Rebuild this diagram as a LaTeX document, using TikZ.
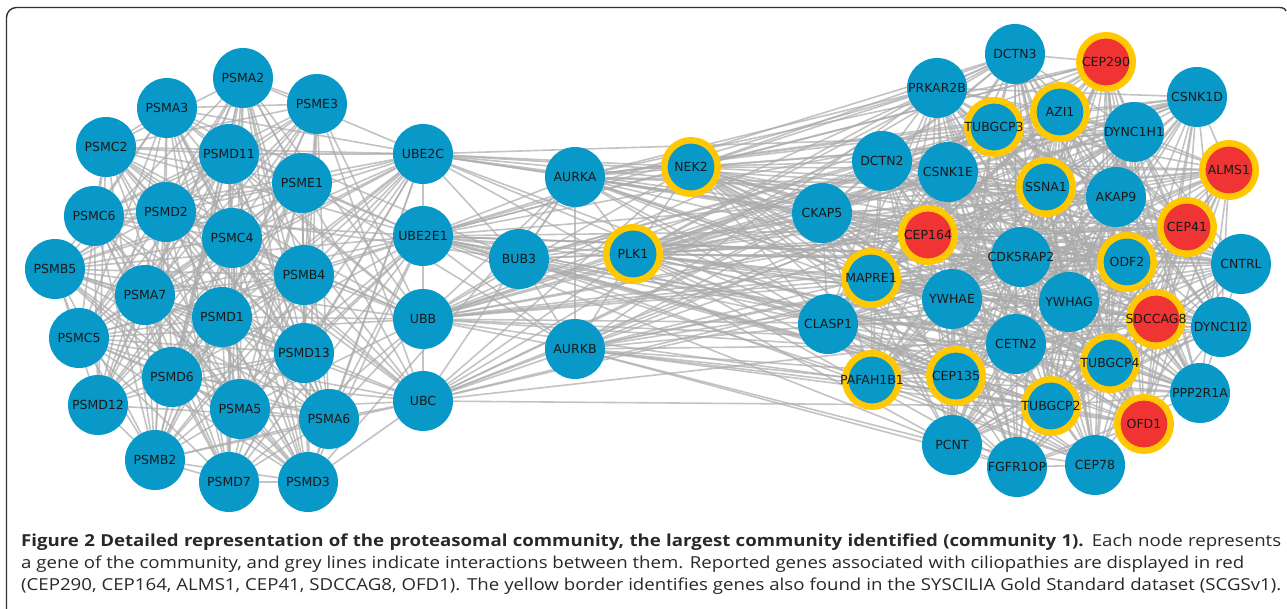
\documentclass[tikz,border=0pt]{standalone}
\usepackage{fontspec}
\setmainfont[FakeStretch=1.13]{Open Sans}
\newfontfamily\gfont{DejaVu Sans}
\definecolor{blueN}{RGB}{8,153,201}
\definecolor{redN}{RGB}{240,52,52}
\definecolor{yellowN}{RGB}{255,200,0}
\definecolor{edgeC}{RGB}{170,170,170}
\definecolor{frameC}{RGB}{50,50,50}
\definecolor{capC}{RGB}{40,40,40}
\pgfdeclarelayer{edgelayer}
\pgfsetlayers{edgelayer,main}
\tikzset{
  gene/.style={circle, fill=blueN, minimum size=60pt, inner sep=0pt,
    font=\gfont\fontsize{12.5}{14}\selectfont, text=black!90},
  ring/.style={gene, draw=yellowN, line width=6.5pt, minimum size=53.5pt},
  cil/.style={ring, fill=redN},
  edge/.style={draw=edgeC, line width=1.6pt, opacity=0.7},
  capline/.style={anchor=base west, inner sep=0pt, text=capC,
    font=\fontsize{16.5}{22}\selectfont},
}
\newcommand\gnode[3]{\node[#1] (#2) at (#3) {\makebox[0pt]{#2}};}
\newcommand\myclique[2]{%
  \edef\mylistA{#1}%
  \foreach \pa [count=\ii] in \mylistA {%
    \foreach \pb [count=\jj] in \mylistA {%
      \ifnum\jj>\ii
        \pgfmathtruncatemacro\myr{rnd<#2}%
        \ifnum\myr=1 \draw[edge] (\pa) -- (\pb);\fi
      \fi}}}
\newcommand\mycross[3]{%
  \edef\mylistA{#1}\edef\mylistB{#2}%
  \foreach \pa in \mylistA {%
    \foreach \pb in \mylistB {%
      \pgfmathtruncatemacro\myr{rnd<#3}%
      \ifnum\myr=1 \draw[edge] (\pa) -- (\pb);\fi}}}
\begin{document}
\begin{tikzpicture}[x=1pt,y=-1pt]
\useasboundingbox (0,0) rectangle (1287,608);
% frame
\draw[frameC, line width=1.4pt, rounded corners=10pt]
  (6.5,620) -- (6.5,7.5) -- (1276,7.5);
\draw[frameC, line width=1.4pt] (1276,7.5) to[out=0,in=110] (1286,11);
% left cluster
\gnode{gene}{PSMA2}{243,78}
\gnode{gene}{PSMA3}{167,108}
\gnode{gene}{PSME3}{317,104}
\gnode{gene}{PSMC2}{106,147}
\gnode{gene}{PSMD11}{229,154}
\gnode{gene}{PSME1}{302,183}
\gnode{gene}{PSMC6}{94,216}
\gnode{gene}{PSMD2}{166,212}
\gnode{gene}{PSMC4}{232,238}
\gnode{gene}{PSMB5}{55,269}
\gnode{gene}{PSMB4}{304,275}
\gnode{gene}{PSMA7}{145,295}
\gnode{gene}{PSMD1}{222,317}
\gnode{gene}{PSMC5}{79,338}
\gnode{gene}{PSMD13}{304,353}
\gnode{gene}{PSMD6}{172,377}
\gnode{gene}{PSMD12}{98,405}
\gnode{gene}{PSMA5}{240,409}
\gnode{gene}{PSMA6}{329,419}
\gnode{gene}{PSMB2}{155,460}
\gnode{gene}{PSMD7}{229,482}
\gnode{gene}{PSMD3}{308,482}
% ubiquitin column
\gnode{gene}{UBE2C}{423,154}
\gnode{gene}{UBE2E1}{423,236}
\gnode{gene}{UBB}{423,319}
\gnode{gene}{UBC}{423,401}
% middle
\gnode{gene}{AURKA}{575,177}
\gnode{ring}{NEK2}{691,167}
\gnode{gene}{BUB3}{519,259}
\gnode{ring}{PLK1}{633,254}
\gnode{gene}{AURKB}{575,349}
% right cluster
\gnode{gene}{DCTN3}{1015,54}
\gnode{cil}{CEP290}{1106,62}
\gnode{gene}{PRKAR2B}{937,88}
\gnode{gene}{CSNK1D}{1197,97}
\gnode{ring}{AZI1}{1060,112}
\gnode{ring}{TUBGCP3}{994,127}
\gnode{gene}{DYNC1H1}{1134,132}
\gnode{gene}{DCTN2}{882,161}
\gnode{gene}{CSNK1E}{948,172}
\gnode{cil}{ALMS1}{1229,170}
\gnode{ring}{SSNA1}{1046,187}
\gnode{gene}{AKAP9}{1116,197}
\gnode{gene}{CKAP5}{822,213}
\gnode{cil}{CEP164}{928,235}
\gnode{cil}{CEP41}{1187,227}
\gnode{gene}{CDK5RAP2}{1021,257}
\gnode{ring}{ODF2}{1127,262}
\gnode{gene}{CNTRL}{1241,264}
\gnode{ring}{MAPRE1}{871,278}
\gnode{gene}{YWHAE}{952,299}
\gnode{gene}{YWHAG}{1069,302}
\gnode{cil}{SDCCAG8}{1156,319}
\gnode{gene}{DYNC1I2}{1221,327}
\gnode{gene}{CLASP1}{828,324}
\gnode{gene}{CETN2}{1016,344}
\gnode{ring}{TUBGCP4}{1110,363}
\gnode{ring}{PAFAH1B1}{872,380}
\gnode{ring}{CEP135}{956,376}
\gnode{gene}{PPP2R1A}{1200,393}
\gnode{ring}{TUBGCP2}{1051,406}
\gnode{cil}{OFD1}{1144,424}
\gnode{gene}{PCNT}{952,445}
\gnode{gene}{FGFR1OP}{1017,467}
\gnode{gene}{CEP78}{1095,465}
% edges
\def\Lset{PSMA2,PSMA3,PSME3,PSMC2,PSMD11,PSME1,PSMC6,PSMD2,PSMC4,PSMB5,PSMB4,PSMA7,PSMD1,PSMC5,PSMD13,PSMD6,PSMD12,PSMA5,PSMA6,PSMB2,PSMD7,PSMD3}
\def\Uset{UBE2C,UBE2E1,UBB,UBC}
\def\Mset{AURKA,BUB3,PLK1,AURKB,NEK2}
\def\Rset{DCTN3,CEP290,PRKAR2B,CSNK1D,AZI1,TUBGCP3,DYNC1H1,DCTN2,CSNK1E,ALMS1,SSNA1,AKAP9,CKAP5,CEP164,CEP41,CDK5RAP2,ODF2,CNTRL,MAPRE1,YWHAE,YWHAG,SDCCAG8,DYNC1I2,CLASP1,CETN2,TUBGCP4,PAFAH1B1,CEP135,PPP2R1A,TUBGCP2,OFD1,PCNT,FGFR1OP,CEP78}
\begin{pgfonlayer}{edgelayer}
\pgfmathsetseed{7}
\myclique{\Lset}{0.85}
\mycross{\Uset}{\Lset}{0.75}
\mycross{\Uset}{\Mset}{0.85}
\mycross{\Uset}{\Rset}{0.4}
\mycross{\Lset}{AURKA,BUB3,AURKB}{0.04}
\mycross{PLK1}{\Rset}{0.75}
\mycross{NEK2}{\Rset}{0.65}
\mycross{AURKA}{\Rset}{0.45}
\mycross{AURKB}{\Rset}{0.4}
\mycross{BUB3}{\Rset}{0.35}
\myclique{\Rset}{0.7}
\draw[edge] (UBE2C) -- (UBE2E1);
\draw[edge] (UBE2E1) -- (UBB);
\draw[edge] (UBB) -- (UBC);
\draw[edge] (AURKA) -- (AURKB);
\draw[edge] (NEK2) -- (PLK1);
\draw[edge] (AURKA) -- (PLK1);
\draw[edge] (AURKA) -- (BUB3);
\draw[edge] (BUB3) -- (PLK1);
\draw[edge] (AURKB) -- (PLK1);
\draw[edge] (AURKB) -- (BUB3);
\end{pgfonlayer}
% caption
\node[capline] (cap1) at (21,546) {\hbox to 1260pt{\textbf{Figure 2 Detailed representation of the proteasomal community, the largest community identified (community 1).} Each node represents}};
\node[capline] (cap2) at (21,568) {a gene of the community, and grey lines indicate interactions between them. Reported genes associated with ciliopathies are displayed in red};
\node[capline] (cap3) at (21,590) {\hbox to 1260pt{(CEP290, CEP164, ALMS1, CEP41, SDCCAG8, OFD1). The yellow border identifies genes also found in the SYSCILIA Gold Standard dataset (SCGSv1).}};
\end{tikzpicture}
\end{document}
